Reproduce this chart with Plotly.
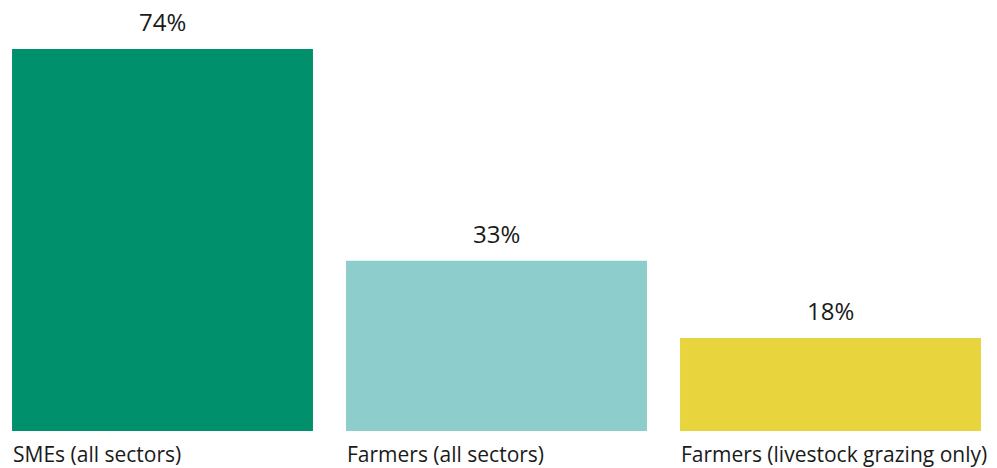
import plotly.graph_objects as go

categories = ["SMEs (all sectors)", "Farmers (all sectors)", "Farmers (livestock grazing only)"]
values = [74, 33, 18]
value_labels = ["74%", "33%", "18%"]
colors = ["#00906b", "#8dcdcb", "#e8d43d"]

xs = list(range(len(categories)))
bar_w = 0.901

fig = go.Figure(go.Bar(x=xs, y=values, width=bar_w, marker=dict(color=colors, line=dict(width=0)),
                       hoverinfo="skip"))

font_family = "Open Sans, sans-serif"
ann = []
for i, (c, v, t) in enumerate(zip(categories, values, value_labels)):
    ann.append(dict(x=i, y=v, xref="x", yref="y", text=t, showarrow=False,
                    xanchor="center", yanchor="bottom", yshift=9,
                    font=dict(family=font_family, size=24, color="#1a1a1a")))
    ann.append(dict(x=i - bar_w / 2, y=0, xref="x", yref="y", text=c, showarrow=False,
                    xanchor="left", yanchor="top", yshift=-7, xshift=-1,
                    font=dict(family=font_family, size=21, color="#1a1a1a")))

fig.update_layout(
    width=997, height=468,
    margin=dict(l=0, r=0, t=0, b=0),
    paper_bgcolor="white", plot_bgcolor="white",
    xaxis=dict(range=[-0.4865, 2.4985], visible=False, fixedrange=True),
    yaxis=dict(range=[-7.17, 83.49], visible=False, fixedrange=True),
    showlegend=False,
    annotations=ann,
)
fig.write_html("out.html")
